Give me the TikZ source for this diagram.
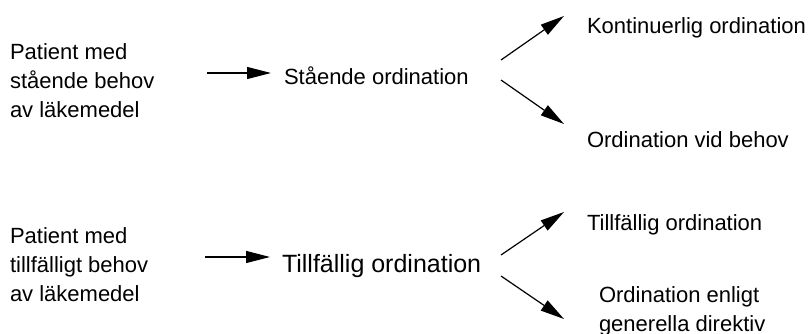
\documentclass[tikz,border=0pt]{standalone}
\usepackage{fontspec}
\setmainfont{Liberation Sans}
\usetikzlibrary{arrows.meta}
\tikzset{
  lbl/.style={inner sep=0pt, outer sep=0pt, align=left, font=\fontsize{22}{29}\selectfont},
  big/.style={inner sep=0pt, outer sep=0pt, font=\fontsize{25}{29}\selectfont},
  arr/.style={line width=1.2pt, -{Triangle[length=24pt,width=12pt]}}
}
\begin{document}
\begin{tikzpicture}[x=1pt,y=-1pt]
\useasboundingbox (0,0) rectangle (809,334);
% top group (base anchor = baseline of the last line)
\node[lbl, anchor=base west] (p1) at (10,118) {Patient med\\stående behov\\av läkemedel};
\node[lbl, anchor=base west] (s1) at (284,85) {Stående ordination};
\node[lbl, anchor=base west] (k1) at (587,34) {Kontinuerlig ordination};
\node[lbl, anchor=base west] (v1) at (587,148) {Ordination vid behov};
\coordinate (a1s) at (207,73);
\coordinate (a1e) at (271,73);
\coordinate (b1s) at (501,60);
\coordinate (b1e) at (564,16);
\coordinate (c1s) at (501,80);
\coordinate (c1e) at (564,124);
\draw[arr] (a1s) -- (a1e);
\draw[arr] (b1s) -- (b1e);
\draw[arr] (c1s) -- (c1e);
% bottom group
\node[lbl, anchor=base west] (p2) at (10,301) {Patient med\\tillfälligt behov\\av läkemedel};
\node[big, anchor=base west] (s2) at (282,272) {Tillfällig ordination};
\node[lbl, anchor=base west] (k2) at (587,230) {Tillfällig ordination};
\node[lbl, anchor=base west] (v2) at (599,331) {Ordination enligt\\generella direktiv};
\coordinate (a2s) at (205,257);
\coordinate (a2e) at (270,257);
\coordinate (b2s) at (501,255);
\coordinate (b2e) at (564,212);
\coordinate (c2s) at (501,276);
\coordinate (c2e) at (564,319);
\draw[arr] (a2s) -- (a2e);
\draw[arr] (b2s) -- (b2e);
\draw[arr] (c2s) -- (c2e);
\end{tikzpicture}
\end{document}
